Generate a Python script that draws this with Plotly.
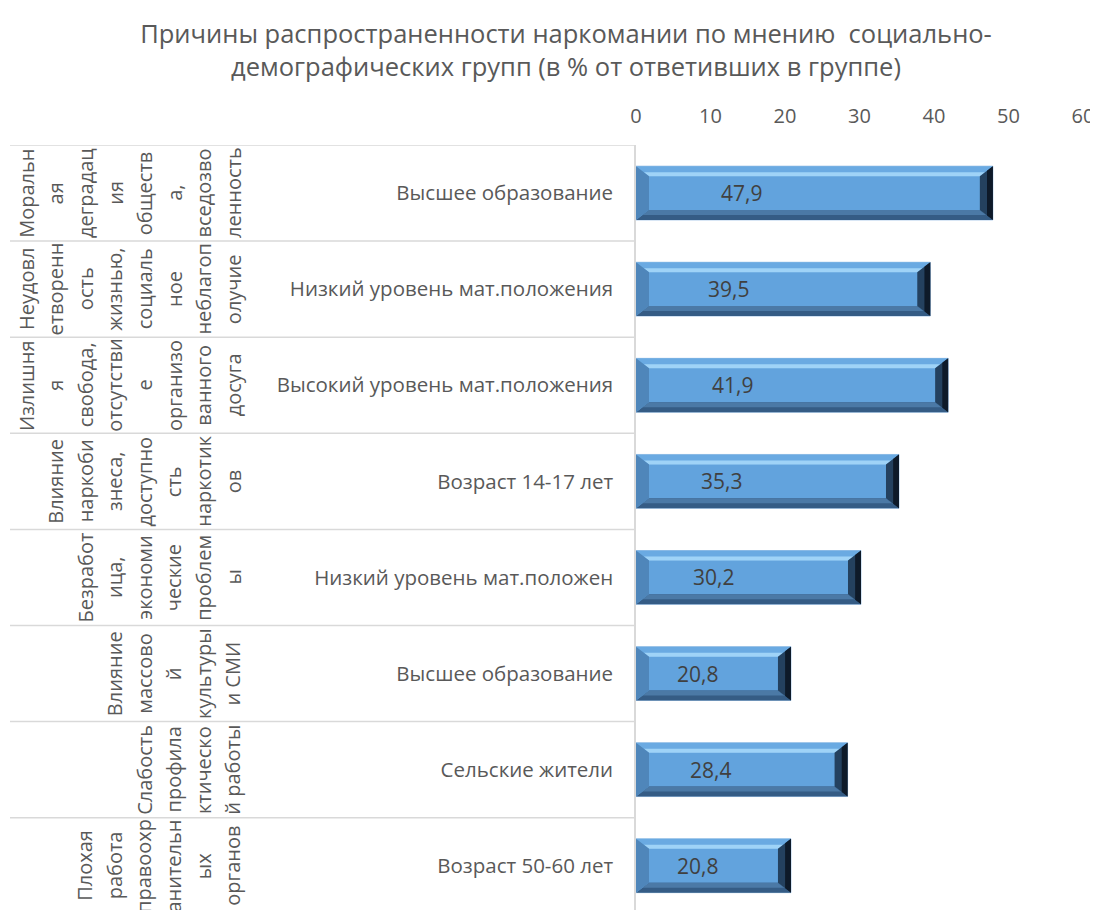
import plotly.graph_objects as go

# ---------------- data ----------------
title_text = "Причины распространенности наркомании по мнению  социально-<br>демографических групп (в % от ответивших в группе)"

# outer (group) labels, as wrapped in the original (one entry per text column)
group_lines = [
    ["Моральн", "ая", "деградац", "ия", "обществ", "а,", "вседозво", "ленность"],
    ["Неудовл", "етворенн", "ость", "жизнью,", "социаль", "ное", "неблагоп", "олучие"],
    ["Излишня", "я", "свобода,", "отсутстви", "е", "организо", "ванного", "досуга"],
    ["Влияние", "наркоби", "знеса,", "доступно", "сть", "наркотик", "ов"],
    ["Безработ", "ица,", "экономи", "ческие", "проблем", "ы"],
    ["Влияние", "массово", "й", "культуры", "и СМИ"],
    ["Слабость", "профила", "ктическо", "й работы"],
    ["Плохая", "работа", "правоохр", "анительн", "ых", "органов"],
]

subgroups = [
    "Высшее образование",
    "Низкий уровень мат.положения",
    "Высокий уровень мат.положения",
    "Возраст 14-17 лет",
    "Низкий уровень мат.положен",
    "Высшее образование",
    "Сельские жители",
    "Возраст 50-60 лет",
]

values = [47.9, 39.5, 41.9, 35.3, 30.2, 20.8, 28.4, 20.8]
value_labels = ["47,9", "39,5", "41,9", "35,3", "30,2", "20,8", "28,4", "20,8"]
x_ticks = [0, 10, 20, 30, 40, 50, 60]

# ---------------- layout geometry ----------------
OFF = 8  # page body margin
W, H = 1098 - OFF, 910 - OFF
L = 636 - OFF
T = 145 - OFF
R = W - (1083 - OFF)
B = 0
plot_w = W - L - R
plot_h = H - T - B
row_px = 96.1
n = len(values)
y_bottom = -0.5 + plot_h / row_px
px_per_unit = plot_w / 60.0

FONT = "Open Sans"
GREY = "#595959"

def px2paper(p):
    # p: x pixel in reference picture coordinates
    return (p - OFF - L) / plot_w

bar_w = 0.56
idx = list(range(n))

fig = go.Figure()
fig.add_trace(go.Bar(
    y=idx, x=values, orientation="h", width=bar_w,
    marker=dict(color="#62a3dd", line=dict(color="#a9c9e9", width=1)),
    hoverinfo="x",
))

# bevel shapes, derived from each bar's value/position
dx = 13 / px_per_unit
dy = 10 / row_px
shapes = []
def poly(pts, color):
    d = "M " + " L ".join(f"{x},{y}" for x, y in pts) + " Z"
    return dict(type="path", path=d, xref="x", yref="y", fillcolor=color,
                line=dict(width=0), layer="above")

for i, v in zip(idx, values):
    t = i - bar_w / 2
    b = i + bar_w / 2
    # top bevel
    shapes.append(poly([(0, t), (v, t), (v - dx, t + dy), (dx, t + dy)], "#6aaae2"))
    shapes.append(poly([(dx * 0.6, t + dy * 0.6), (v - dx * 0.6, t + dy * 0.6),
                        (v - dx, t + dy), (dx, t + dy)], "#9fd3f7"))
    # bottom bevel
    shapes.append(poly([(0, b), (v, b), (v - dx, b - dy), (dx, b - dy)], "#355c85"))
    shapes.append(poly([(dx * 0.5, b - dy * 0.5), (v - dx * 0.5, b - dy * 0.5),
                        (v - dx, b - dy), (dx, b - dy)], "#4b79a6"))
    # left bevel
    shapes.append(poly([(0, t), (dx, t + dy), (dx, b - dy), (0, b)], "#4f86ba"))
    # right bevel
    shapes.append(poly([(v, t), (v - dx, t + dy), (v - dx, b - dy), (v, b)], "#24415f"))
    shapes.append(poly([(v, t), (v - dx * 0.45, t + dy * 0.45), (v - dx * 0.45, b - dy * 0.45), (v, b)], "#0e1a29"))

# category separator lines (multi-level axis style)
for k in range(n):
    shapes.append(dict(type="line", xref="paper", yref="y",
                       x0=px2paper(10), x1=0, y0=k - 0.5, y1=k - 0.5,
                       line=dict(color="#d9d9d9", width=1.5), layer="below"))

annotations = []
# data labels
for i, v, lab in zip(idx, values, value_labels):
    annotations.append(dict(x=0.218 * v + 28 / px_per_unit, y=i, xref="x", yref="y",
                            text=lab, showarrow=False, xanchor="center", yanchor="middle",
                            font=dict(family=FONT, size=21, color="#404040")))

# outer group labels (rotated columns)
col_step = 29.6
last_col = 233
for i, lines in enumerate(group_lines):
    m = len(lines)
    for j, line in enumerate(lines):
        cx = last_col - col_step * (m - 1 - j)
        annotations.append(dict(x=px2paper(cx), y=i, xref="paper", yref="y",
                                text=line, textangle=-90, showarrow=False,
                                xanchor="center", yanchor="middle",
                                font=dict(family=FONT, size=20, color=GREY)))

fig.update_layout(
    width=W, height=H,
    margin=dict(l=L, r=R, t=T, b=B, autoexpand=False),
    paper_bgcolor="white", plot_bgcolor="white",
    showlegend=False,
    title=dict(text=title_text, x=(566 - OFF) / W, xanchor="center",
               y=1 - 35 / H, yanchor="top",
               font=dict(family=FONT, size=25.5, color=GREY)),
    xaxis=dict(side="top", range=[0, 60], tickvals=x_ticks, ticks="",
               showgrid=False, zeroline=False, showline=False, automargin=False,
               tickfont=dict(family=FONT, size=20, color=GREY),
               ticklabelstandoff=17, fixedrange=True),
    yaxis=dict(range=[y_bottom, -0.5], tickvals=idx, ticktext=subgroups, ticks="",
               showgrid=False, zeroline=False, showline=True, linecolor="#d9d9d9", linewidth=1.5,
               automargin=False,
               tickfont=dict(family=FONT, size=20.5, color=GREY),
               ticklabelstandoff=17, fixedrange=True),
    shapes=shapes,
    annotations=annotations,
    bargap=0.44,
)

fig.write_html("out.html")
